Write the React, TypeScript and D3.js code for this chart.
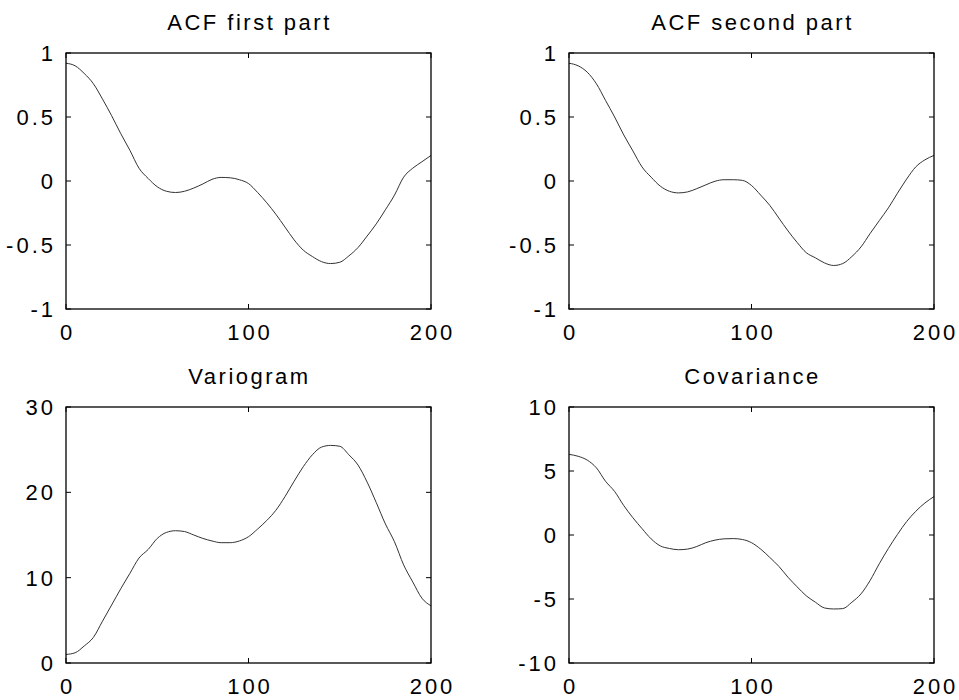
import React from 'react';
import * as d3 from 'd3';

// lag values (x axis)
const lags = [
  0, 5, 10, 15, 20, 25, 30, 35, 40, 45, 50, 55, 60, 65, 70, 75, 80, 85, 90, 95, 100,
  105, 110, 115, 120, 125, 130, 135, 140, 145, 150, 155, 160, 165, 170, 175, 180, 185, 190, 195, 200,
];

const acfFirst = [
  0.92, 0.9, 0.84, 0.76, 0.64, 0.51, 0.37, 0.24, 0.1, 0.02, -0.045, -0.08, -0.09, -0.08, -0.055, -0.023, 0.013, 0.028, 0.025, 0.01, -0.02,
  -0.09, -0.17, -0.26, -0.36, -0.46, -0.54, -0.59, -0.63, -0.645, -0.635, -0.585, -0.52, -0.43, -0.335, -0.225, -0.11, 0.03, 0.1, 0.15, 0.2,
];

const acfSecond = [
  0.92, 0.9, 0.85, 0.76, 0.63, 0.5, 0.36, 0.235, 0.11, 0.03, -0.04, -0.08, -0.093, -0.085, -0.06, -0.03, -0.002, 0.01, 0.01, 0.005, -0.035,
  -0.11, -0.19, -0.29, -0.39, -0.48, -0.56, -0.6, -0.64, -0.66, -0.645, -0.59, -0.515, -0.41, -0.31, -0.21, -0.095, 0.015, 0.11, 0.165, 0.2,
];

const variogram = [
  1.0, 1.2, 2.0, 3.0, 4.9, 6.8, 8.7, 10.5, 12.3, 13.3, 14.6, 15.3, 15.5, 15.4, 15.0, 14.6, 14.3, 14.1, 14.1, 14.3, 14.8,
  15.7, 16.7, 17.9, 19.5, 21.3, 23.0, 24.4, 25.3, 25.5, 25.4, 24.4, 23.2, 21.2, 18.8, 16.3, 14.2, 11.5, 9.5, 7.6, 6.7,
];

const covariance = [
  6.3, 6.15, 5.85, 5.25, 4.2, 3.4, 2.3, 1.35, 0.5, -0.3, -0.85, -1.05, -1.15, -1.1, -0.9, -0.6, -0.4, -0.3, -0.28, -0.35, -0.6,
  -1.1, -1.75, -2.45, -3.3, -4.05, -4.75, -5.25, -5.7, -5.78, -5.75, -5.25, -4.6, -3.55, -2.25, -1.05, 0.05, 1.05, 1.85, 2.5, 3.0,
];

const titles = ['ACF first part', 'ACF second part', 'Variogram', 'Covariance'];
const xTicks = [0, 100, 200];
const acfTicks = [-1, -0.5, 0, 0.5, 1];
const variogramTicks = [0, 10, 20, 30];
const covarianceTicks = [-10, -5, 0, 5, 10];

const W = 959;
const H = 700;
const font = '"Liberation Sans", Arial, Helvetica, sans-serif';

const panels = [
  { title: titles[0], values: acfFirst, ticks: acfTicks, left: 66, top: 53, bottom: 309, labelGap: 31 },
  { title: titles[1], values: acfSecond, ticks: acfTicks, left: 569, top: 53, bottom: 309, labelGap: 31 },
  { title: titles[2], values: variogram, ticks: variogramTicks, left: 66, top: 407, bottom: 663, labelGap: 31 },
  { title: titles[3], values: covariance, ticks: covarianceTicks, left: 569, top: 407, bottom: 663, labelGap: 31 },
];
const boxWidth = 365;
const tickLen = 5;

const Panel = ({ p }) => {
  const right = p.left + boxWidth;
  const x = d3.scaleLinear().domain([0, 200]).range([p.left, right]);
  const y = d3.scaleLinear().domain(d3.extent(p.ticks)).range([p.bottom, p.top]);
  const line = d3
    .line()
    .x((d, i) => x(lags[i]))
    .y((d) => y(d))
    .curve(d3.curveMonotoneX);

  return (
    <g>
      <text
        x={(p.left + right) / 2 + 1}
        y={p.top - 23}
        textAnchor="middle"
        fontFamily={font}
        fontSize={22}
        letterSpacing={2.5}
      >
        {p.title}
      </text>
      <path d={line(p.values)} fill="none" stroke="#333" strokeWidth={1} />
      {xTicks.map((t) => (
        <g key={'x' + t}>
          <line x1={x(t)} x2={x(t)} y1={p.bottom} y2={p.bottom - tickLen} stroke="#000" />
          <line x1={x(t)} x2={x(t)} y1={p.top} y2={p.top + tickLen} stroke="#000" />
          <text
            x={x(t) + 1.5}
            y={p.bottom + p.labelGap}
            textAnchor="middle"
            fontFamily={font}
            fontSize={22}
            letterSpacing={3}
          >
            {String(t)}
          </text>
        </g>
      ))}
      {p.ticks.map((t) => (
        <g key={'y' + t}>
          <line x1={p.left} x2={p.left + tickLen} y1={y(t)} y2={y(t)} stroke="#000" />
          <line x1={right} x2={right - tickLen} y1={y(t)} y2={y(t)} stroke="#000" />
          <text
            x={p.left - 10}
            y={y(t)}
            dy="0.36em"
            textAnchor="end"
            fontFamily={font}
            fontSize={22}
            letterSpacing={3}
          >
            {String(t)}
          </text>
        </g>
      ))}
      <rect
        x={p.left}
        y={p.top}
        width={boxWidth}
        height={p.bottom - p.top}
        fill="none"
        stroke="#000"
        strokeWidth={1.3}
      />
    </g>
  );
};

export default function App() {
  return (
    <svg
      width={W}
      height={H}
      style={{ position: 'absolute', left: 0, top: 0, background: '#fff' }}
    >
      <rect width={W} height={H} fill="#fff" />
      {panels.map((p) => (
        <Panel key={p.title} p={p} />
      ))}
    </svg>
  );
}
